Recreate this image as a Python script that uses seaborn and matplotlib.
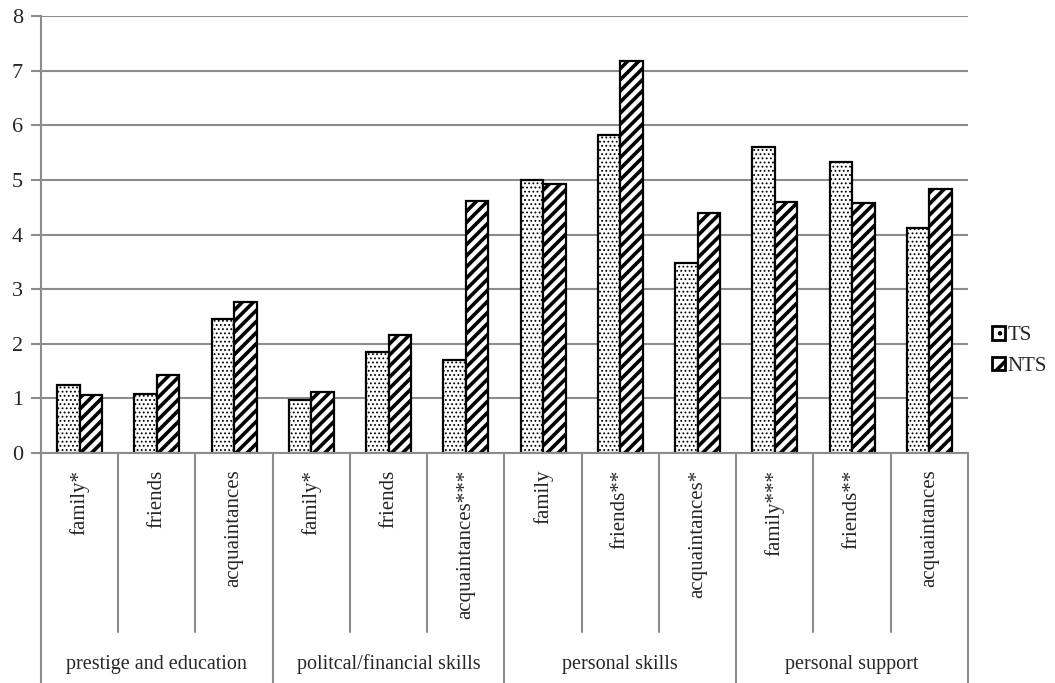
import matplotlib
matplotlib.use("Agg")
import matplotlib.pyplot as plt
import matplotlib.transforms as mtransforms
import pandas as pd
import seaborn as sns

groups = ["prestige and education", "politcal/financial skills", "personal skills", "personal support"]
items = ["family*", "friends", "acquaintances",
         "family*", "friends", "acquaintances***",
         "family", "friends**", "acquaintances*",
         "family***", "friends**", "acquaintances"]
ts = [1.25, 1.08, 2.45, 0.97, 1.85, 1.70, 5.00, 5.83, 3.47, 5.60, 5.32, 4.12]
nts = [1.06, 1.42, 2.77, 1.12, 2.16, 4.62, 4.93, 7.17, 4.40, 4.59, 4.58, 4.83]

keys = [f"{i:02d} {lab}" for i, lab in enumerate(items)]
df = pd.DataFrame({
    "key": keys * 2,
    "value": ts + nts,
    "series": ["TS"] * len(ts) + ["NTS"] * len(nts),
})

sns.set_theme(style="white")
plt.rcParams["font.family"] = ["Liberation Serif", "DejaVu Serif"]
plt.rcParams["hatch.linewidth"] = 1.0

fig = plt.figure(figsize=(10.55, 6.83), dpi=100)
ax = fig.add_axes([41 / 1055, (683 - 453) / 683, (968 - 41) / 1055, 437 / 683])

sns.barplot(data=df, x="key", y="value", hue="series", order=keys,
            hue_order=["TS", "NTS"], width=0.58, gap=0, ax=ax,
            palette=["white", "white"], edgecolor="black", linewidth=1.6,
            saturation=1, legend=True)

hatches = {"TS": ("....", 0.8), "NTS": ("///", 2.6)}
n = len(keys)
for i, bar in enumerate(ax.patches[:2 * n]):
    h, lw = hatches["TS"] if i < n else hatches["NTS"]
    bar.set_hatch(h)
    if hasattr(bar, "set_hatch_linewidth"):
        bar.set_hatch_linewidth(lw)

grey = "#8c8c8c"
ax.set_ylim(0, 8)
ax.set_xlim(-0.5, n - 0.5)
ax.set_yticks(range(0, 9))
ax.yaxis.grid(True, color=grey, linewidth=1.5)
ax.set_axisbelow(True)
for s in ["top", "right", "bottom"]:
    ax.spines[s].set_visible(False)
ax.spines["left"].set_color(grey)
ax.spines["left"].set_linewidth(1.5)
ax.tick_params(axis="y", length=7, width=1.5, color=grey, labelsize=16, pad=6, left=True)
ax.tick_params(axis="x", length=0, pad=12, labelsize=15)
ax.set_xticks(range(n))
ax.set_xticklabels(items, rotation=90, va="top", ha="center")
ax.set_xlabel("")
ax.set_ylabel("")

trans = mtransforms.blended_transform_factory(ax.transData, ax.transAxes)
ax.plot([-0.5, n - 0.5], [0, 0], color=grey, lw=1.5, transform=trans, clip_on=False)
for k in range(n + 1):
    x = k - 0.5
    bottom = -0.527 if k % 3 == 0 else -0.41
    ax.plot([x, x], [0, bottom], color=grey, lw=1.5, transform=trans, clip_on=False)
for g, name in enumerate(groups):
    ax.text(3 * g + 1, -0.483, name, transform=trans, ha="center", va="center", fontsize=14.5)

handles, labels = ax.get_legend_handles_labels()
leg = ax.legend(handles, labels, frameon=False, loc="center left",
                bbox_to_anchor=(992 / 1055, 1 - 351 / 683), bbox_transform=fig.transFigure,
                borderaxespad=0, borderpad=0,
                handlelength=0.6, handleheight=0.6, handletextpad=0.15, fontsize=15,
                labelspacing=0.55)
for patch, lab in zip(leg.get_patches(), labels):
    h, lw = hatches[lab]
    patch.set_hatch(h[:1] if lab == "TS" else "/")
    patch.set_linewidth(2)
    if hasattr(patch, "set_hatch_linewidth"):
        patch.set_hatch_linewidth(lw)

fig.savefig("out.png", dpi=100)
